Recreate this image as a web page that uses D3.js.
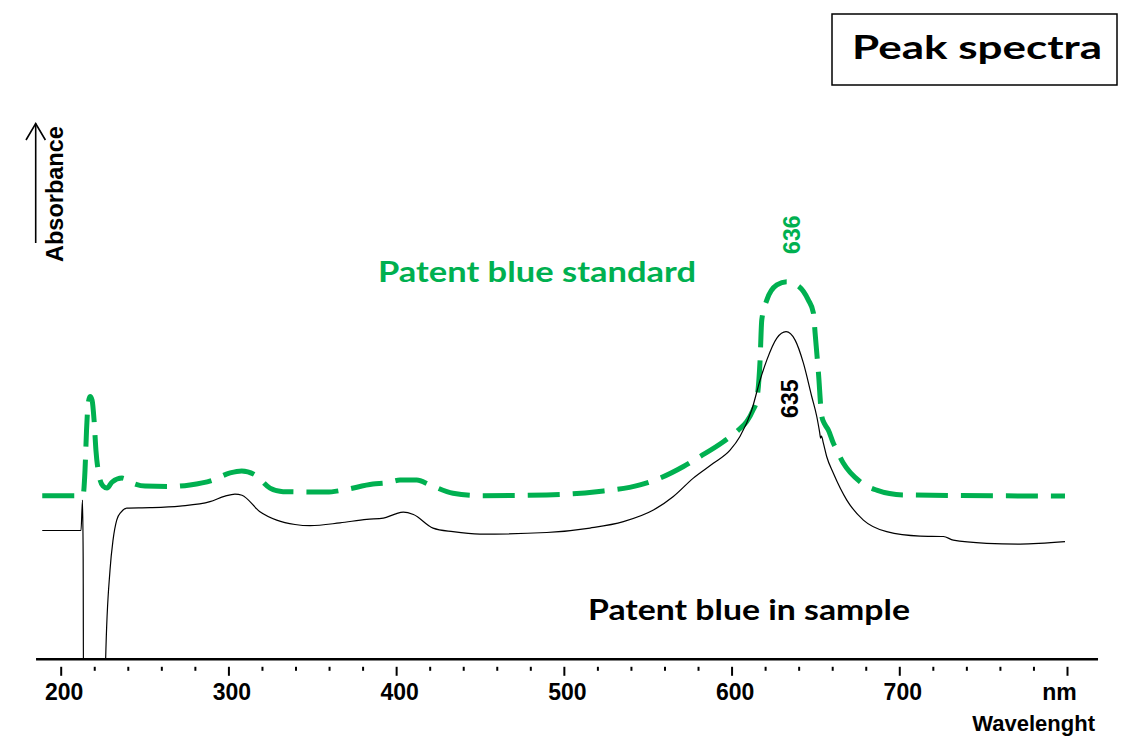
<!DOCTYPE html>
<html>
<head>
<meta charset="utf-8">
<script src="https://cdn.jsdelivr.net/npm/d3@7"></script>
<style>
  body { margin: 0; background: #fff; }
  svg { display: block; }
</style>
</head>
<body>
<div id="chart"></div>
<script>
// wavelength (nm) and absorbance (arbitrary units)
const sampleNm = [189.0, 212.1, 213.0, 213.4, 213.6, 226.7, 226.8, 229.4, 231.2, 233.4, 236.0, 239.4, 253.2, 271.1, 289.0, 298.0, 303.9, 308.1, 318.8, 328.8, 339.7, 348.7, 366.5, 382.5, 392.4, 399.3, 404.3, 410.3, 422.0, 433.9, 450.0, 489.8, 515.6, 535.5, 553.4, 565.3, 577.2, 589.1, 599.1, 605.0, 612.0, 617.0, 621.0, 627.0, 632.5, 637.9, 642.8, 647.8, 650.8, 652.5, 653.1, 653.6, 654.7, 656.7, 660.7, 668.7, 678.6, 692.5, 712.4, 726.3, 732.2, 752.1, 772.0, 798.8];
const sampleAbs = [0.322, 0.322, 0.398, 0.248, -0.10, -0.10, 0.0, 0.223, 0.298, 0.348, 0.368, 0.378, 0.379, 0.383, 0.394, 0.408, 0.413, 0.410, 0.369, 0.348, 0.337, 0.334, 0.341, 0.350, 0.353, 0.363, 0.368, 0.362, 0.328, 0.319, 0.313, 0.317, 0.328, 0.344, 0.373, 0.407, 0.453, 0.490, 0.523, 0.557, 0.623, 0.698, 0.748, 0.803, 0.819, 0.798, 0.741, 0.657, 0.607, 0.568, 0.553, 0.558, 0.541, 0.507, 0.465, 0.398, 0.348, 0.319, 0.308, 0.307, 0.298, 0.290, 0.288, 0.294];

const standardNm = [189.0, 213.3, 214.5, 215.4, 216.3, 217.5, 218.7, 219.9, 221.0, 222.8, 225.2, 227.6, 230.6, 236.6, 242.6, 250.3, 265.2, 277.1, 290.0, 301.0, 307.9, 315.9, 324.8, 332.6, 358.6, 368.3, 386.2, 394.4, 402.3, 412.3, 420.2, 433.9, 450.0, 489.8, 519.6, 545.4, 557.3, 571.3, 581.2, 595.1, 604.0, 609.0, 612.8, 615.0, 617.0, 618.0, 621.0, 627.0, 632.9, 638.9, 645.8, 648.8, 649.8, 651.8, 653.8, 655.8, 657.7, 660.7, 662.7, 666.7, 676.6, 686.5, 702.4, 798.8];
const standardAbs = [0.409, 0.409, 0.473, 0.573, 0.636, 0.657, 0.648, 0.598, 0.523, 0.461, 0.433, 0.428, 0.443, 0.453, 0.441, 0.433, 0.432, 0.436, 0.447, 0.466, 0.471, 0.461, 0.428, 0.419, 0.418, 0.423, 0.438, 0.441, 0.448, 0.448, 0.436, 0.415, 0.409, 0.411, 0.419, 0.436, 0.453, 0.482, 0.507, 0.544, 0.573, 0.594, 0.623, 0.648, 0.748, 0.848, 0.898, 0.936, 0.944, 0.936, 0.898, 0.866, 0.816, 0.716, 0.607, 0.586, 0.573, 0.540, 0.523, 0.490, 0.444, 0.423, 0.411, 0.408];

const tickValues = d3.range(200, 801, 20);
const peakStandard = 636;
const peakSample = 635;

const green = "#00B050";
const width = 1140, height = 749;
const arial = "'Liberation Sans', Arial, sans-serif";
const calibri = "Lato, 'Open Sans', sans-serif";

let svg = d3.select("#chart")
    .append("svg")
    .attr("width", width)
    .attr("height", height);

let x = d3.scaleLinear().domain([200, 800]).range([60.7, 1067]);
let y = d3.scaleLinear().domain([0, 1.5]).range([659.3, 59.3]);

// clip below the axis line (sample dips negative near 220 nm)
svg.append("clipPath").attr("id", "plotclip")
    .append("rect")
    .attr("x", 0).attr("y", 0)
    .attr("width", width).attr("height", y(0));

let line = d3.line()
    .x(d => x(d[0]))
    .y(d => y(d[1]))
    .curve(d3.curveMonotoneX);

let sample = sampleNm.map((v, i) => [v, sampleAbs[i]]);
let standard = standardNm.map((v, i) => [v, standardAbs[i]]);

svg.append("path")
    .datum(standard)
    .attr("clip-path", "url(#plotclip)")
    .attr("fill", "none")
    .attr("stroke", green)
    .attr("stroke-width", 5)
    .attr("stroke-dasharray", "32,13")
    .attr("d", line);

svg.append("path")
    .datum(sample)
    .attr("clip-path", "url(#plotclip)")
    .attr("fill", "none")
    .attr("stroke", "#000")
    .attr("stroke-width", 1.2)
    .attr("d", line);

// x axis
let axis = svg.append("g")
    .attr("transform", "translate(0," + y(0) + ")")
    .call(d3.axisBottom(x)
        .tickValues(tickValues)
        .tickSize(0)
        .tickFormat(d => d % 100 === 0 ? (d === 800 ? "nm" : d) : ""));

axis.select(".domain").remove();
axis.append("line")
    .attr("x1", x(185.3)).attr("x2", x(818.5))
    .attr("stroke", "#000").attr("stroke-width", 2.6);

axis.selectAll(".tick line")
    .attr("y1", 7.5)
    .attr("y2", d => d % 100 === 0 ? 16.5 : 11.5)
    .attr("stroke", "#000")
    .attr("stroke-width", 2);

axis.selectAll(".tick text")
    .attr("y", 41)
    .attr("dy", 0)
    .attr("dx", d => d === 800 ? -8 : 3)
    .attr("fill", "#000")
    .style("font-family", arial)
    .style("font-weight", "bold")
    .style("font-size", "23px");

svg.append("text")
    .attr("x", 1095)
    .attr("y", 731)
    .attr("text-anchor", "end")
    .style("font-family", arial)
    .style("font-weight", "bold")
    .style("font-size", "22px")
    .text("Wavelenght");

// y axis: arrow only
svg.append("line")
    .attr("x1", 35.7).attr("x2", 35.7)
    .attr("y1", 243).attr("y2", 123.5)
    .attr("stroke", "#000").attr("stroke-width", 1.6);
svg.append("polyline")
    .attr("points", "26,140 35.7,123.5 45.4,140")
    .attr("fill", "none")
    .attr("stroke", "#000").attr("stroke-width", 1.6);

svg.append("text")
    .attr("transform", "translate(63.3,262) rotate(-90)")
    .style("font-family", arial)
    .style("font-weight", "bold")
    .style("font-size", "23.5px")
    .text("Absorbance");

// peak labels
svg.append("text")
    .attr("transform", "translate(" + (x(peakStandard) + 8) + "," + (y(d3.max(standardAbs)) - 47) + ") rotate(-90)")
    .attr("text-anchor", "middle")
    .attr("fill", green)
    .style("font-family", arial)
    .style("font-weight", "bold")
    .style("font-size", "23px")
    .text(peakStandard);

svg.append("text")
    .attr("transform", "translate(" + (x(peakSample) + 8) + "," + (y(d3.max(sampleAbs)) + 67) + ") rotate(-90)")
    .attr("text-anchor", "middle")
    .attr("fill", "#000")
    .style("font-family", arial)
    .style("font-weight", "bold")
    .style("font-size", "23px")
    .text(peakSample);

// series labels
svg.append("text")
    .attr("x", 378).attr("y", 282)
    .attr("fill", green)
    .attr("textLength", 318)
    .attr("lengthAdjust", "spacingAndGlyphs")
    .style("font-family", calibri)
    .style("font-weight", "bold")
    .style("font-size", "28px")
    .text("Patent blue standard");

svg.append("text")
    .attr("x", 588).attr("y", 620)
    .attr("fill", "#000")
    .attr("textLength", 322)
    .attr("lengthAdjust", "spacingAndGlyphs")
    .style("font-family", calibri)
    .style("font-weight", "bold")
    .style("font-size", "28px")
    .text("Patent blue in sample");

// title box
svg.append("rect")
    .attr("x", 832).attr("y", 14)
    .attr("width", 285).attr("height", 71)
    .attr("fill", "#fff")
    .attr("stroke", "#000").attr("stroke-width", 1.5);

svg.append("text")
    .attr("x", 852).attr("y", 59)
    .attr("textLength", 250)
    .attr("lengthAdjust", "spacingAndGlyphs")
    .style("font-family", calibri)
    .style("font-weight", "bold")
    .style("font-size", "32px")
    .text("Peak spectra");
</script>
</body>
</html>
